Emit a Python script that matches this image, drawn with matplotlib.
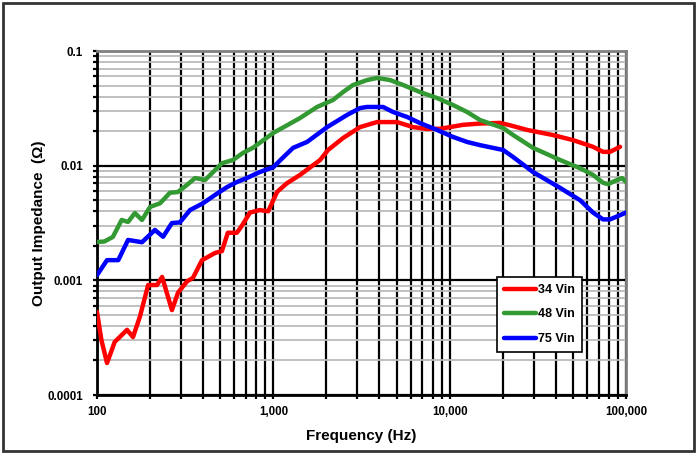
import matplotlib
matplotlib.use("Agg")
import matplotlib.pyplot as plt
from matplotlib.ticker import FixedLocator, FixedFormatter, NullFormatter
from matplotlib.patches import Rectangle
import numpy as np

plt.rcParams['font.family'] = ['Liberation Sans', 'DejaVu Sans']
plt.rcParams['font.weight'] = 'bold'

# --- data ---------------------------------------------------------------
f_34 = [100, 106, 114, 126, 148, 160, 175, 195, 219, 234, 266, 288, 324, 350,
        394, 426, 466, 511, 552, 621, 664, 737, 838, 935, 1050, 1190, 1416,
        1841, 2043, 2484, 3103, 3874, 4590, 5030, 6193, 7440, 8820, 10050,
        11900, 14870, 19300, 22000, 27500, 38500, 50100, 65000, 74100, 81200,
        92500]
z_34 = [0.00053, 0.00030, 0.00019, 0.00029, 0.00037, 0.00032, 0.00048, 0.00091,
        0.00091, 0.00107, 0.00055, 0.00078, 0.00098, 0.00105, 0.0015, 0.0016,
        0.00173, 0.0018, 0.0026, 0.0026, 0.0030, 0.0039, 0.0041, 0.0040,
        0.0059, 0.0070, 0.0083, 0.0112, 0.0137, 0.0174, 0.0217, 0.0240,
        0.0240, 0.0240, 0.0217, 0.0209, 0.0210, 0.0217, 0.0227, 0.0233,
        0.0236, 0.0225, 0.0205, 0.0185, 0.0167, 0.0146, 0.0132, 0.0132,
        0.0146]

f_48 = [100, 110, 123, 138, 150, 164, 180, 200, 228, 259, 288, 324, 360, 410,
        449, 511, 590, 672, 765, 1000, 1416, 1770, 2180, 2484, 2830, 3400,
        3874, 4590, 5450, 6800, 8480, 10450, 12550, 14870, 20100, 22900,
        29700, 42300, 54900, 65000, 74100, 79000, 89000, 95000, 100000]
z_48 = [0.00216, 0.00218, 0.00239, 0.00336, 0.00323, 0.00386, 0.00336, 0.00437,
        0.0047, 0.0058, 0.0059, 0.0068, 0.0078, 0.0075, 0.0086, 0.0105,
        0.0112, 0.0129, 0.0143, 0.0193, 0.0260, 0.0325, 0.0374, 0.0438,
        0.0505, 0.0558, 0.0582, 0.0558, 0.0505, 0.0438, 0.0389, 0.0338,
        0.0294, 0.0250, 0.0213, 0.0185, 0.0143, 0.0112, 0.0095, 0.0083,
        0.0071, 0.0069, 0.0075, 0.0078, 0.0072]

f_75 = [100, 114, 132, 150, 180, 213, 237, 266, 295, 337, 399, 466, 546, 621,
        707, 838, 1000, 1130, 1294, 1553, 2020, 2620, 3103, 3400, 4190, 4770,
        5730, 6800, 8480, 10450, 12550, 14870, 20100, 22900, 29700, 42300,
        54900, 65000, 74100, 81200, 92500, 100000]
z_75 = [0.00111, 0.0015, 0.0015, 0.00225, 0.00215, 0.00275, 0.0024, 0.00316,
        0.0032, 0.0041, 0.0047, 0.00554, 0.0065, 0.0072, 0.0078, 0.0088,
        0.0097, 0.0117, 0.0143, 0.0161, 0.0217, 0.0277, 0.0318, 0.0325,
        0.0325, 0.0294, 0.0266, 0.0235, 0.0205, 0.0178, 0.0161, 0.0151,
        0.0137, 0.0119, 0.0088, 0.0064, 0.0050, 0.0039, 0.0034, 0.0034,
        0.0037, 0.0039]

series_labels = ["34 Vin", "48 Vin", "75 Vin"]
x_ticks = [100, 1000, 10000, 100000]
x_tick_labels = ["100", "1,000", "10,000", "100,000"]
y_ticks = [0.0001, 0.001, 0.01, 0.1]
y_tick_labels = ["0.0001", "0.001", "0.01", "0.1"]

# --- figure -------------------------------------------------------------
W, H = 697, 454
fig = plt.figure(figsize=(W / 100, H / 100), dpi=100)
fig.patches.append(Rectangle((3 / W, 3 / H), 1 - 6 / W, 1 - 6 / H,
                             transform=fig.transFigure, fill=False,
                             edgecolor='#333333', linewidth=2))

ax = fig.add_axes([97 / W, 1 - 395 / H, (626 - 97) / W, (395 - 51) / H])
ax.set_xscale('log')
ax.set_yscale('log')
ax.set_xlim(100, 100000)
ax.set_ylim(0.0001, 0.1)

minor_x = [m * 10 ** e for e in range(2, 5) for m in range(2, 10)]
minor_y = [m * 10.0 ** e for e in range(-4, -1) for m in range(2, 10)]

ax.xaxis.set_major_locator(FixedLocator(x_ticks))
ax.xaxis.set_major_formatter(FixedFormatter(x_tick_labels))
ax.xaxis.set_minor_locator(FixedLocator(minor_x))
ax.xaxis.set_minor_formatter(NullFormatter())
ax.yaxis.set_major_locator(FixedLocator(y_ticks))
ax.yaxis.set_major_formatter(FixedFormatter(y_tick_labels))
ax.yaxis.set_minor_locator(FixedLocator(minor_y))
ax.yaxis.set_minor_formatter(NullFormatter())

# grid
ax.grid(which='minor', axis='y', color='#bbbbbb', linewidth=1.3)
ax.grid(which='major', axis='y', color='black', linewidth=1.6)
ax.grid(which='both', axis='x', color='black', linewidth=1.6)
ax.set_axisbelow(True)

for s in ['top', 'right']:
    ax.spines[s].set_color('#808080')
    ax.spines[s].set_linewidth(2)
for s in ['left', 'bottom']:
    ax.spines[s].set_color('black')
    ax.spines[s].set_linewidth(2)

ax.tick_params(which='both', direction='out', length=3, width=1.6,
               colors='black', labelsize=8.3)
ax.tick_params(axis='y', which='major', pad=7)
ax.tick_params(axis='x', which='major', pad=5)
for lbl in ax.get_xticklabels() + ax.get_yticklabels():
    lbl.set_fontweight('bold')

colors = ['#ff0000', '#339933', '#0000ff']
for fx, zz, c, lab in zip([f_34, f_48, f_75], [z_34, z_48, z_75], colors,
                          series_labels):
    ax.plot(fx, zz, color=c, linewidth=3.2, label=lab,
            solid_joinstyle='round', solid_capstyle='round', zorder=3)

ax.set_xlabel('Frequency (Hz)', fontsize=11, fontweight='bold', labelpad=8)
ax.set_ylabel('Output Impedance  (Ω)', fontsize=11, fontweight='bold',
              labelpad=1)

leg = ax.legend(loc='upper left', bbox_to_anchor=((497 - 97) / 529,
                                                   1 - (277 - 51) / 344),
                frameon=True, fancybox=False, framealpha=1,
                edgecolor='black', fontsize=9, handlelength=2.6,
                handletextpad=0.15, labelspacing=1.0, borderpad=0.55,
                borderaxespad=0)
leg.get_frame().set_linewidth(1.2)
for t in leg.get_texts():
    t.set_fontweight('bold')
leg.set_zorder(5)

fig.savefig('out.png', dpi=100)
